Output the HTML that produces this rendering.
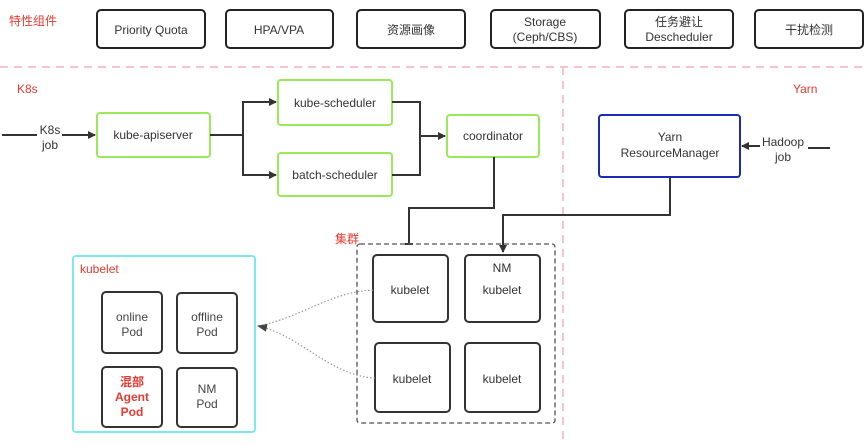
<!DOCTYPE html>
<html><head><meta charset="utf-8"><style>
body{margin:0;background:#fff;}
svg text{font-family:"Liberation Sans","Noto Sans CJK SC",sans-serif;}
</style></head><body>
<svg width="866" height="440" viewBox="0 0 866 440" xmlns="http://www.w3.org/2000/svg">
<defs>
<marker id="a" markerWidth="8" markerHeight="8" refX="7" refY="4" orient="auto" markerUnits="userSpaceOnUse"><path d="M0,0 L8,4 L0,8 z" fill="#333"/></marker>
<marker id="g" markerWidth="10" markerHeight="8" refX="9" refY="4" orient="auto" markerUnits="userSpaceOnUse"><path d="M0,0 L10,4 L0,8 z" fill="#444"/></marker>
</defs>
<g font-size="12" fill="#333" text-anchor="middle">
<text x="9" y="25" fill="#e8392f" text-anchor="start" font-size="12">特性组件</text>
<g fill="none" stroke="#222" stroke-width="2">
<rect x="97" y="10" width="108" height="38" rx="4"/>
<rect x="226" y="10" width="107" height="38" rx="4"/>
<rect x="357" y="10" width="108" height="38" rx="4"/>
<rect x="491" y="10" width="109" height="38" rx="4"/>
<rect x="625" y="10" width="108" height="38" rx="4"/>
<rect x="755" y="10" width="108" height="38" rx="4"/>
</g>
<text x="151" y="34">Priority Quota</text>
<text x="279" y="34">HPA/VPA</text>
<text x="411" y="34">资源画像</text>
<text x="545" y="26">Storage</text><text x="545" y="41">(Ceph/CBS)</text>
<text x="679" y="26">任务避让</text><text x="679" y="41">Descheduler</text>
<text x="809" y="34">干扰检测</text>
</g>
<g stroke="#f7c3cc" stroke-width="2" stroke-dasharray="8,6">
<line x1="0" y1="67" x2="866" y2="67"/>
<line x1="563" y1="67" x2="563" y2="440"/>
</g>
<text x="17" y="93" font-size="12" fill="#e8392f">K8s</text>
<text x="793" y="93" font-size="12" fill="#e8392f">Yarn</text>
<g fill="none" stroke-width="2">
<rect x="97" y="113" width="113" height="44" rx="3" stroke="#9be85b"/>
<rect x="278" y="80" width="114" height="45" rx="3" stroke="#9be85b"/>
<rect x="278" y="153" width="114" height="43" rx="3" stroke="#9be85b"/>
<rect x="447" y="115" width="92" height="42" rx="3" stroke="#9be85b"/>
<rect x="599" y="115" width="141" height="62" rx="3" stroke="#1a2bb5"/>
</g>
<g font-size="12" fill="#333" text-anchor="middle">
<text x="153" y="139">kube-apiserver</text>
<text x="335" y="107">kube-scheduler</text>
<text x="335" y="179">batch-scheduler</text>
<text x="493" y="140">coordinator</text>
<text x="670" y="141">Yarn</text>
<text x="670" y="157">ResourceManager</text>
<text x="50" y="134">K8s</text><text x="50" y="149">job</text>
<text x="783" y="146">Hadoop</text><text x="783" y="161">job</text>
</g>
<g fill="none" stroke="#333" stroke-width="2">
<line x1="2" y1="135" x2="37" y2="135"/>
<line x1="62" y1="135" x2="95" y2="135" marker-end="url(#a)"/>
<line x1="830" y1="148" x2="808" y2="148"/>
<line x1="760" y1="146" x2="742" y2="146" marker-end="url(#a)"/>
<polyline points="210,135 243,135"/>
<polyline points="276,102 243,102 243,175 276,175" marker-end="url(#a)"/>
<line x1="243" y1="102" x2="276" y2="102" marker-end="url(#a)"/>
<polyline points="392,102 420,102 420,175 392,175"/>
<line x1="420" y1="136" x2="445" y2="136" marker-end="url(#a)"/>
<polyline points="494,157 494,208 409,208 409,244"/>
<line x1="405" y1="244" x2="413" y2="244"/>
<polyline points="670,177 670,215 503,215 503,252" marker-end="url(#a)"/>
</g>
<text x="335" y="243" font-size="12" fill="#e8392f">集群</text>
<rect x="357" y="244" width="198" height="179" rx="3" fill="none" stroke="#555" stroke-width="1.3" stroke-dasharray="5,3"/>
<g fill="none" stroke="#333" stroke-width="2">
<rect x="373" y="255" width="75" height="67" rx="4"/>
<rect x="465" y="255" width="75" height="67" rx="4"/>
<rect x="375" y="343" width="75" height="69" rx="4"/>
<rect x="465" y="343" width="75" height="69" rx="4"/>
</g>
<g font-size="12" fill="#333" text-anchor="middle">
<text x="410" y="294">kubelet</text>
<text x="502" y="272">NM</text><text x="502" y="294">kubelet</text>
<text x="412" y="383">kubelet</text>
<text x="502" y="383">kubelet</text>
</g>
<rect x="73" y="256" width="182" height="176" rx="3" fill="none" stroke="#7ee8ec" stroke-width="2"/>
<text x="80" y="273" font-size="12" fill="#e8392f">kubelet</text>
<g fill="none" stroke="#333" stroke-width="2">
<rect x="102" y="292" width="60" height="61" rx="4"/>
<rect x="177" y="293" width="60" height="60" rx="4"/>
<rect x="102" y="367" width="60" height="60" rx="4"/>
<rect x="177" y="368" width="60" height="59" rx="4"/>
</g>
<g font-size="12" fill="#444" text-anchor="middle">
<text x="132" y="321">online</text><text x="132" y="336">Pod</text>
<text x="207" y="321">offline</text><text x="207" y="336">Pod</text>
<text x="132" y="386" fill="#e8392f" font-weight="bold">混部</text>
<text x="132" y="401" fill="#e8392f" font-weight="bold">Agent</text>
<text x="132" y="416" fill="#e8392f" font-weight="bold">Pod</text>
<text x="207" y="393">NM</text><text x="207" y="408">Pod</text>
</g>
<g fill="none" stroke="#999" stroke-width="1.2" stroke-dasharray="1.5,2">
<path d="M373,290 C330,292 300,318 258,326"/>
<path d="M375,378 C330,376 300,335 258,326" marker-end="url(#g)"/>
</g>
</svg>
</body></html>
